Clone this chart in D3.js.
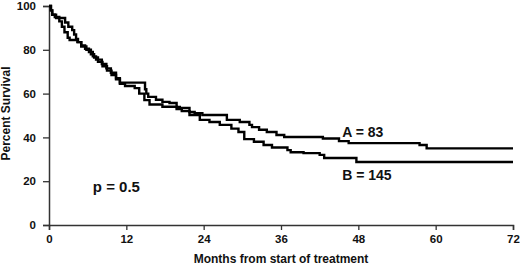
<!DOCTYPE html>
<html>
<head>
<meta charset="utf-8">
<script src="https://cdn.jsdelivr.net/npm/d3@7"></script>
<style>
    body { margin: 0; background: #fff; }
    text { font-family: "Liberation Sans", Arial, sans-serif; font-weight: bold; fill: #111; }
</style>
</head>
<body>
<script>
// Kaplan-Meier steps: [month, percent surviving]
const groupA = [
    [0, 100], [0.3, 98], [0.5, 96], [1.1, 94.5], [2.5, 92.5], [3.0, 90.5], [3.6, 89], [3.9, 87],
    [4.2, 85], [4.5, 83.5], [5.0, 82], [5.6, 80.5], [6.2, 79], [6.8, 77], [7.3, 75.5], [8.2, 73.5],
    [8.9, 71.5], [9.6, 69.5], [10.4, 67], [11.0, 65], [14.9, 62], [15.1, 60], [15.4, 58.5],
    [16.6, 57.2], [17.6, 56.2], [18.7, 55.7], [19.8, 53.9], [20.3, 53.4], [21.8, 51.6], [22.6, 51.1],
    [23.8, 50.2], [27.6, 48], [29.6, 47], [31.1, 45.7], [31.5, 44.7], [32.6, 43.5], [33.8, 42.5],
    [35.3, 41.1], [36.5, 40.2], [42.5, 39.5], [45.0, 38.3], [46.5, 37.4], [57.5, 36.5], [58.6, 35],
    [72, 35]
];
const groupB = [
    [0, 100], [0.3, 98], [0.5, 96], [0.9, 95], [1.6, 93], [2.0, 90.5], [2.4, 88], [2.9, 85.5],
    [3.2, 84.5], [4.4, 83.5], [5.0, 81.5], [5.8, 80], [6.5, 78], [7.0, 76.5], [7.6, 74.5], [8.3, 72.5],
    [9.0, 70.5], [9.7, 68.5], [10.4, 66.5], [11.0, 64.5], [11.8, 63.5], [13.3, 62.5], [14.0, 60],
    [14.8, 57], [15.6, 55], [17.6, 54], [19.8, 53], [20.6, 52], [21.8, 50.2], [23.4, 48], [24.9, 47],
    [26.5, 45.7], [28.3, 44], [29.4, 42.5], [30.3, 39.2], [31.8, 38], [33.3, 36.5], [34.6, 35.4],
    [37.0, 34.2], [37.5, 33.2], [39.5, 32.8], [42.0, 32], [42.7, 30.6], [47.7, 28.8], [72, 28.8]
];
const xTicks = [0, 12, 24, 36, 48, 60, 72];
const yTicks = [0, 20, 40, 60, 80, 100];
const seriesLabels = ['A = 83', 'B = 145'];

const width = 520;
const height = 267;
const margin = {top: 6, right: 7, bottom: 42, left: 49};

const svg = d3.select('body')
    .append('svg')
    .attr('width', width)
    .attr('height', height);

const x = d3.scaleLinear().domain([0, 72]).range([margin.left, width - margin.right]);
const y = d3.scaleLinear().domain([0, 100]).range([height - margin.bottom, margin.top]);

// axes
const xAxis = svg.append('g')
    .attr('transform', `translate(0, ${y(0)})`)
    .call(d3.axisBottom(x).tickValues(xTicks).tickSize(5).tickPadding(5));
const yAxis = svg.append('g')
    .attr('transform', `translate(${x(0)}, 0)`)
    .call(d3.axisLeft(y).tickValues(yTicks).tickSize(6).tickPadding(7));

[xAxis, yAxis].forEach(a =>
{
    a.select('.domain').attr('stroke', '#333').attr('stroke-width', 1.5);
    a.selectAll('.tick line').attr('stroke', '#333').attr('stroke-width', 1.3);
    a.selectAll('.tick text').style('font-size', '11.5px').style('font-family', '"Liberation Sans", Arial, sans-serif').style('font-weight', 'bold');
});

const line = d3.line()
    .x(d => x(d[0]))
    .y(d => y(d[1]))
    .curve(d3.curveStepAfter);

[groupA, groupB].forEach(g =>
{
    svg.append('path')
        .datum(g)
        .attr('fill', 'none')
        .attr('stroke', '#000')
        .attr('stroke-width', 2.4)
        .attr('d', line);
});

// labels
svg.append('text')
    .attr('x', x(45.5)).attr('y', y(37.4) - 6)
    .style('font-size', '14px')
    .text(seriesLabels[0]);
svg.append('text')
    .attr('x', x(45.5)).attr('y', y(28.8) + 18)
    .style('font-size', '14px')
    .text(seriesLabels[1]);

svg.append('text')
    .attr('x', x(6.8)).attr('y', y(15))
    .style('font-size', '15px')
    .text('p = 0.5');

svg.append('text')
    .attr('x', (x(0) + x(72)) / 2).attr('y', height - 4)
    .attr('text-anchor', 'middle')
    .style('font-size', '12px')
    .text('Months from start of treatment');

svg.append('text')
    .attr('transform', `translate(10, ${(y(0) + y(100)) / 2 - 2}) rotate(-90)`)
    .attr('text-anchor', 'middle')
    .style('font-size', '12px')
    .text('Percent Survival');
</script>
</body>
</html>
